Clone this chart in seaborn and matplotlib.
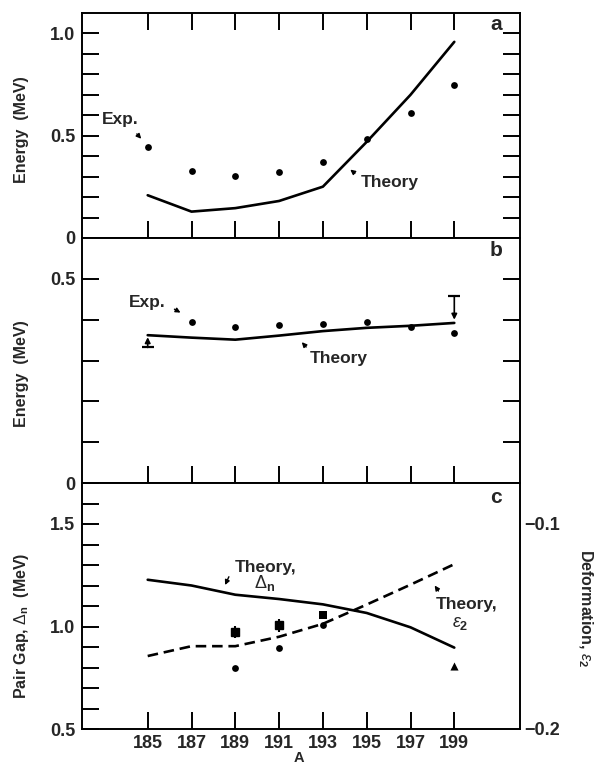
import matplotlib
matplotlib.use("Agg")
import matplotlib.pyplot as plt
import seaborn as sns
import numpy as np

sns.set_style("white")
plt.rcParams['font.family'] = ['Liberation Sans', 'DejaVu Sans']
plt.rcParams['mathtext.fontset'] = 'custom'
plt.rcParams['mathtext.rm'] = 'Liberation Sans'
plt.rcParams['mathtext.bf'] = 'Liberation Sans:bold'
plt.rcParams['mathtext.it'] = 'Liberation Sans:italic'

# ---------------- data ----------------
A = [185, 187, 189, 191, 193, 195, 197, 199]
A_tick_labels = ["185", "187", "189", "191", "193", "195", "197", "199"]

# panel a
a_exp = [0.447, 0.327, 0.305, 0.322, 0.374, 0.482, 0.611, 0.748]
a_theory = [0.209, 0.129, 0.146, 0.181, 0.251, 0.470, 0.700, 0.959]

# panel b
b_exp_A = [187, 189, 191, 193, 195, 197, 199]
b_exp = [0.395, 0.382, 0.386, 0.390, 0.394, 0.383, 0.368]
b_theory = [0.362, 0.356, 0.351, 0.361, 0.372, 0.380, 0.385, 0.392]
b_limit_A = [185, 199]
b_limit_from = [0.332, 0.457]
b_limit_to = [0.357, 0.400]

# panel c
c_gap_theory = [1.228, 1.200, 1.155, 1.134, 1.108, 1.066, 0.996, 0.897]
c_eps_theory = [-0.1644, -0.1596, -0.1596, -0.1550, -0.1487, -0.1393, -0.1296, -0.1196]
c_circ_A = [189, 191, 193]
c_circ = [0.799, 0.897, 1.008]
c_err_A = [189, 191]
c_err = [0.972, 1.005]
c_err_size = [0.03, 0.03]
c_sq_A = [193]
c_sq = [1.055]
c_tri_A = [199]
c_tri = [0.807]

# ---------------- figure ----------------
W, H = 600, 765
fig = plt.figure(figsize=(W / 100, H / 100), dpi=100)

def rect(top, bottom, left=82, right=520):
    return [left / W, 1 - bottom / H, (right - left) / W, (bottom - top) / H]

axA = fig.add_axes(rect(13, 238))
axB = fig.add_axes(rect(238, 483))
axC = fig.add_axes(rect(483, 729))

TL = 12.5
LW_FRAME = 1.4
LW_LINE = 1.9
tick_font = dict(fontsize=13, fontweight='bold')
ann_font = dict(fontsize=12.5, fontweight='bold')
lab_font = dict(fontsize=11.5, fontweight='bold')
arrow_kw = dict(arrowstyle='-|>', color='black', lw=1.0, mutation_scale=7)

def style_axes(ax, ylim, yticks_all, ylabels, top_ticks=False, show_xlabels=False):
    ax.set_xlim(182, 202)
    ax.set_ylim(*ylim)
    for s in ax.spines.values():
        s.set_linewidth(LW_FRAME)
        s.set_color('black')
    ax.set_xticks(A)
    if show_xlabels:
        ax.set_xticklabels(A_tick_labels, **tick_font)
    else:
        ax.set_xticklabels([])
    ax.set_yticks(yticks_all)
    ax.set_yticklabels(ylabels, **tick_font)
    ax.tick_params(axis='both', direction='in', length=TL, width=LW_FRAME, color='black',
                   left=True, right=True, bottom=True, top=top_ticks, pad=5)
    ax.tick_params(axis='x', pad=4)
    ax.set_xlabel("")
    ax.set_ylabel("")

# ---------- panel a ----------
sns.lineplot(x=A, y=a_theory, ax=axA, color='black', lw=LW_LINE)
sns.scatterplot(x=A, y=a_exp, ax=axA, color='black', s=24, edgecolor='black', linewidth=0)
ya = [round(0.1 * i, 1) for i in range(0, 11)]
style_axes(axA, (0, 1.1), ya,
           ["0" if v == 0 else ("0.5" if v == 0.5 else ("1.0" if v == 1.0 else "")) for v in ya],
           top_ticks=True)
axA.text(182.91, 0.578, "Exp.", va='center', ha='left', **ann_font)
axA.annotate("", xy=(184.79, 0.475), xytext=(184.42, 0.519), arrowprops=arrow_kw)
axA.text(194.74, 0.269, "Theory", va='center', ha='left', **ann_font)
axA.annotate("", xy=(194.15, 0.343), xytext=(194.56, 0.308), arrowprops=arrow_kw)
axA.text(0.945, 0.947, "a", transform=axA.transAxes, ha='center', va='center',
         fontsize=15, fontweight='bold')

# ---------- panel b ----------
sns.lineplot(x=A, y=b_theory, ax=axB, color='black', lw=LW_LINE)
sns.scatterplot(x=b_exp_A, y=b_exp, ax=axB, color='black', s=24, edgecolor='black', linewidth=0)
for xa, y0, y1 in zip(b_limit_A, b_limit_from, b_limit_to):
    axB.annotate("", xy=(xa, y1), xytext=(xa, y0),
                 arrowprops=dict(arrowstyle='-|>', color='black', lw=1.2, mutation_scale=8,
                                 shrinkA=0, shrinkB=0))
    axB.plot([xa], [y0], marker='_', ms=9, mew=1.6, color='black')
yb = [round(0.1 * i, 1) for i in range(0, 6)]
style_axes(axB, (0, 0.6), yb,
           ["0" if v == 0 else ("0.5" if v == 0.5 else "") for v in yb])
axB.text(184.15, 0.441, "Exp.", va='center', ha='left', **ann_font)
axB.annotate("", xy=(186.61, 0.414), xytext=(186.11, 0.429), arrowprops=arrow_kw)
axB.text(192.41, 0.306, "Theory", va='center', ha='left', **ann_font)
axB.annotate("", xy=(191.95, 0.350), xytext=(192.32, 0.328), arrowprops=arrow_kw)
axB.text(0.945, 0.947, "b", transform=axB.transAxes, ha='center', va='center',
         fontsize=15, fontweight='bold')

# ---------- panel c ----------
sns.lineplot(x=A, y=c_gap_theory, ax=axC, color='black', lw=LW_LINE)
sns.scatterplot(x=c_circ_A, y=c_circ, ax=axC, color='black', s=24, edgecolor='black', linewidth=0)
axC.errorbar(c_err_A, c_err, yerr=c_err_size, fmt='s', ms=5.5, color='black', ecolor='black',
             elinewidth=1.5, capsize=0)
sns.scatterplot(x=c_sq_A, y=c_sq, ax=axC, color='black', marker='s', s=30, edgecolor='black', linewidth=0)
sns.scatterplot(x=c_tri_A, y=c_tri, ax=axC, color='black', marker='^', s=34, edgecolor='black', linewidth=0)
yc = [round(0.5 + 0.1 * i, 1) for i in range(0, 13)]
style_axes(axC, (0.5, 1.7), yc,
           [("%.1f" % v) if v in (0.5, 1.0, 1.5) else "" for v in yc], show_xlabels=True)

axE = axC.twinx()
sns.lineplot(x=A, y=c_eps_theory, ax=axE, color='black', lw=LW_LINE)
axE.lines[-1].set_dashes((4, 2.2))
axE.set_ylim(-0.2, -0.08)
axE.set_yticks([-0.2, -0.1])
axE.set_yticklabels(["\u22120.2", "\u22120.1"], **tick_font)
axE.tick_params(axis='y', direction='out', length=0, pad=3, right=True)
axE.set_ylabel("")
for s in axE.spines.values():
    s.set_visible(False)

axC.text(188.99, 1.289, "Theory,", va='center', ha='left', **ann_font)
axC.text(189.85, 1.211, r"$\Delta_{\mathbf{n}}$", va='center', ha='left', fontsize=13)
axC.annotate("", xy=(188.48, 1.19), xytext=(188.76, 1.255), arrowprops=arrow_kw)
axC.text(198.16, 1.108, "Theory,", va='center', ha='left', **ann_font)
axC.text(198.9, 1.015, r"$\epsilon_{\mathbf{2}}$", va='center', ha='left', fontsize=13)
axC.annotate("", xy=(198.03, 1.211), xytext=(198.35, 1.162), arrowprops=arrow_kw)
axC.text(0.945, 0.943, "c", transform=axC.transAxes, ha='center', va='center',
         fontsize=15, fontweight='bold')

# ---------- axis labels ----------
fig.text(22 / W, 1 - 130 / H, "Energy  (MeV)", rotation=90, ha='center', va='center', **lab_font)
fig.text(22 / W, 1 - 374 / H, "Energy  (MeV)", rotation=90, ha='center', va='center', **lab_font)
fig.text(22 / W, 1 - 626 / H, r"Pair Gap, $\Delta_{\mathbf{n}}$  (MeV)", rotation=90,
         ha='center', va='center', **lab_font)
fig.text(585 / W, 1 - 608 / H, r"Deformation, $\epsilon_{\mathbf{2}}$", rotation=270,
         ha='center', va='center', **lab_font)
fig.text(299 / W, 1 - 765 / H, "A", ha='center', va='bottom',
         fontsize=10.5, fontweight='bold')

fig.savefig("out.png", dpi=100)
